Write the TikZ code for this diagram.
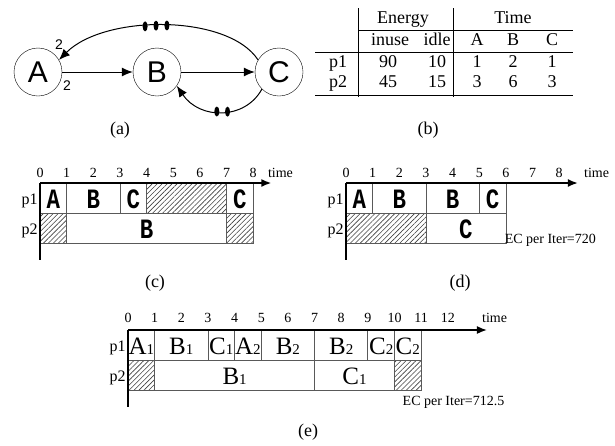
\documentclass[tikz,border=0pt]{standalone}
\usepackage{fontspec}
\setmainfont{Liberation Serif}
\setsansfont{Liberation Sans}
\newfontfamily\cellfont[FakeStretch=0.8]{Liberation Mono}
\usetikzlibrary{arrows.meta,patterns.meta,shapes.geometric}

\newcommand\graphfont{\sffamily\fontsize{30}{32}\selectfont}
\newcommand\tabfont{\fontsize{18}{20}\selectfont}
\newcommand\tickfont{\fontsize{14}{16}\selectfont}
\newcommand\idx[1]{{\fontsize{15}{15}\selectfont #1}}

\begin{document}
\begin{tikzpicture}[
  x=1pt, y=-1pt,
  task/.style={draw, circle, minimum size=48pt, inner sep=0pt, font=\graphfont},
  edge/.style={-{Latex[length=11pt,width=9pt]}, line width=1pt},
  delaymark/.style={ellipse, fill, minimum width=5pt, minimum height=10pt, inner sep=0pt},
  weight/.style={font=\sffamily\fontsize{14}{16}\selectfont, inner sep=0pt},
  tabtext/.style={font=\tabfont, anchor=base, inner sep=0pt},
  caption/.style={font=\tabfont, inner sep=0pt},
  ticklabel/.style={font=\tickfont, inner sep=0pt},
  proc/.style={font=\fontsize{16}{18}\selectfont, anchor=east, inner sep=0pt},
  cell/.style={draw=black!65, line width=0.8pt},
  idle/.style={draw=black!65, line width=0.8pt, pattern={Lines[angle=45,distance=3.5pt,line width=0.6pt]}, pattern color=black!75},
  celltext/.style={font=\cellfont\bfseries\fontsize{28}{30}\selectfont, inner sep=0pt},
  subtext/.style={font=\fontsize{25}{27}\selectfont, inner sep=0pt},
  axisline/.style={line width=1.6pt},
  axisarrow/.style={-{Latex[length=10pt,width=8pt]}, line width=1.6pt},
  energy/.style={font=\tickfont, anchor=west, inner sep=0pt}
]
\useasboundingbox[fill=white] (0,0) rectangle (615,445);

% (a) task graph
\node[task] (A) at (38,72) {A};
\node[task] (B) at (157,72) {B};
\node[task] (C) at (279,72) {C};
\draw[edge] (A) -- (B);
\draw[edge] (B) -- (C);
\draw[edge] (C.150) .. controls (228,14) and (105,14) .. (A.30)
  node[delaymark, pos=0.49] (d1) {}
  node[delaymark, pos=0.535] (d2) {}
  node[delaymark, pos=0.58] (d3) {};
\draw[edge] (C.225) .. controls (245,120) and (200,120) .. (B.-35)
  node[delaymark, pos=0.44] (d4) {}
  node[delaymark, pos=0.55] (d5) {};
\node[weight] (wout) at (59,45) {2};
\node[weight] (win) at (67,86) {2};
\node[caption] (cap-a) at (120,130) {(a)};

% (b) table
\draw[line width=0.8pt] (358,8) -- (358,97);
\draw[line width=0.8pt] (453,8) -- (453,97);
\draw[line width=0.8pt] (358,30) -- (573,30);
\draw[line width=0.8pt] (315,52) -- (573,52);
\draw[line width=0.8pt] (315,95) -- (573,95);
\node[tabtext] (h-energy) at (403,23) {Energy};
\node[tabtext] (h-time) at (513,23) {Time};
\node[tabtext] (h-inuse) at (390,45) {inuse};
\node[tabtext] (h-idle) at (437,45) {idle};
\node[tabtext] (h-A) at (477,45) {A};
\node[tabtext] (h-B) at (513,45) {B};
\node[tabtext] (h-C) at (552,45) {C};
\foreach \r/\y/\a/\b/\c/\d/\e in {p1/67/90/10/1/2/1, p2/87/45/15/3/6/3} {
  \node[tabtext] (\r-name) at (338,\y) {\r};
  \node[tabtext] (\r-inuse) at (388,\y) {\a};
  \node[tabtext] (\r-idle) at (437,\y) {\b};
  \node[tabtext] (\r-A) at (477,\y) {\c};
  \node[tabtext] (\r-B) at (513,\y) {\d};
  \node[tabtext] (\r-C) at (552,\y) {\e};
}
\node[caption] (cap-b) at (428,130) {(b)};

% (c) schedule
\begin{scope}[shift={(40,183)}, x=26.65pt, y=-30pt]
  \foreach \s/\e/\t in {0/1/A, 1/3/B, 3/4/C, 7/8/C} {
    \draw[cell] (\s,0) rectangle (\e,1);
    \node[celltext] (c1-\s) at ({(\s+\e)/2},0.55) {\t};
  }
  \draw[idle] (4,0) rectangle (7,1);
  \draw[idle] (0,1) rectangle (1,2);
  \draw[idle] (7,1) rectangle (8,2);
  \draw[cell] (1,1) rectangle (7,2);
  \node[celltext] (c2-1) at (4,1.55) {B};
  \coordinate (c-o) at (0,0);
  \coordinate (c-end) at (8.68,0);
  \coordinate (c-low) at (0,2.57);
  \draw[axisarrow] (c-o) -- (c-end);
  \draw[axisline] (c-o) -- (c-low);
  \foreach \t in {0,...,8}
    \node[ticklabel] (c-t\t) at (\t,-0.35) {\t};
  \node[ticklabel, anchor=west] (c-time) at (8.55,-0.35) {time};
  \node[proc] (c-p1) at (-0.08,0.6) {p1};
  \node[proc] (c-p2) at (-0.08,1.6) {p2};
\end{scope}
\node[caption] (cap-c) at (155,283) {(c)};

% (d) schedule
\begin{scope}[shift={(346,183)}, x=26.65pt, y=-30pt]
  \foreach \s/\e/\t in {0/1/A, 1/3/B, 3/5/B, 5/6/C} {
    \draw[cell] (\s,0) rectangle (\e,1);
    \node[celltext] (d1-\s) at ({(\s+\e)/2},0.55) {\t};
  }
  \draw[idle] (0,1) rectangle (3,2);
  \draw[cell] (3,1) rectangle (6,2);
  \node[celltext] (d2-3) at (4.5,1.55) {C};
  \coordinate (d-o) at (0,0);
  \coordinate (d-end) at (8.7,0);
  \coordinate (d-low) at (0,2.57);
  \draw[axisarrow] (d-o) -- (d-end);
  \draw[axisline] (d-o) -- (d-low);
  \foreach \t in {0,...,8}
    \node[ticklabel] (d-t\t) at (\t,-0.35) {\t};
  \node[ticklabel, anchor=west] (d-time) at (8.93,-0.35) {time};
  \node[proc] (d-p1) at (-0.08,0.6) {p1};
  \node[proc] (d-p2) at (-0.08,1.6) {p2};
  \node[energy] (d-ec) at (5.95,1.9) {EC per Iter=720};
\end{scope}
\node[caption] (cap-d) at (460,283) {(d)};

% (e) schedule
\begin{scope}[shift={(128,330)}, x=26.65pt, y=-30pt]
  \foreach \s/\e/\t/\n in {0/1/A/1, 1/3/B/1, 3/4/C/1, 4/5/A/2, 5/7/B/2, 7/9/B/2, 9/10/C/2, 10/11/C/2} {
    \draw[cell] (\s,0) rectangle (\e,1);
    \node[subtext] (e1-\s) at ({(\s+\e)/2},0.55) {\t\idx{\n}};
  }
  \draw[idle] (0,1) rectangle (1,2);
  \draw[idle] (10,1) rectangle (11,2);
  \foreach \s/\e/\t/\n in {1/7/B/1, 7/10/C/1} {
    \draw[cell] (\s,1) rectangle (\e,2);
    \node[subtext] (e2-\s) at ({(\s+\e)/2},1.55) {\t\idx{\n}};
  }
  \coordinate (e-o) at (0,0);
  \coordinate (e-end) at (13.47,0);
  \coordinate (e-low) at (0,2.57);
  \draw[axisarrow] (e-o) -- (e-end);
  \draw[axisline] (e-o) -- (e-low);
  \foreach \t in {0,...,12}
    \node[ticklabel] (e-t\t) at (\t,-0.4) {\t};
  \node[ticklabel, anchor=west] (e-time) at (13.28,-0.4) {time};
  \node[proc] (e-p1) at (-0.08,0.6) {p1};
  \node[proc] (e-p2) at (-0.08,1.6) {p2};
  \node[energy] (e-ec) at (10.3,2.4) {EC per Iter=712.5};
\end{scope}
\node[caption] (cap-e) at (308,432) {(e)};
\end{tikzpicture}
\end{document}
